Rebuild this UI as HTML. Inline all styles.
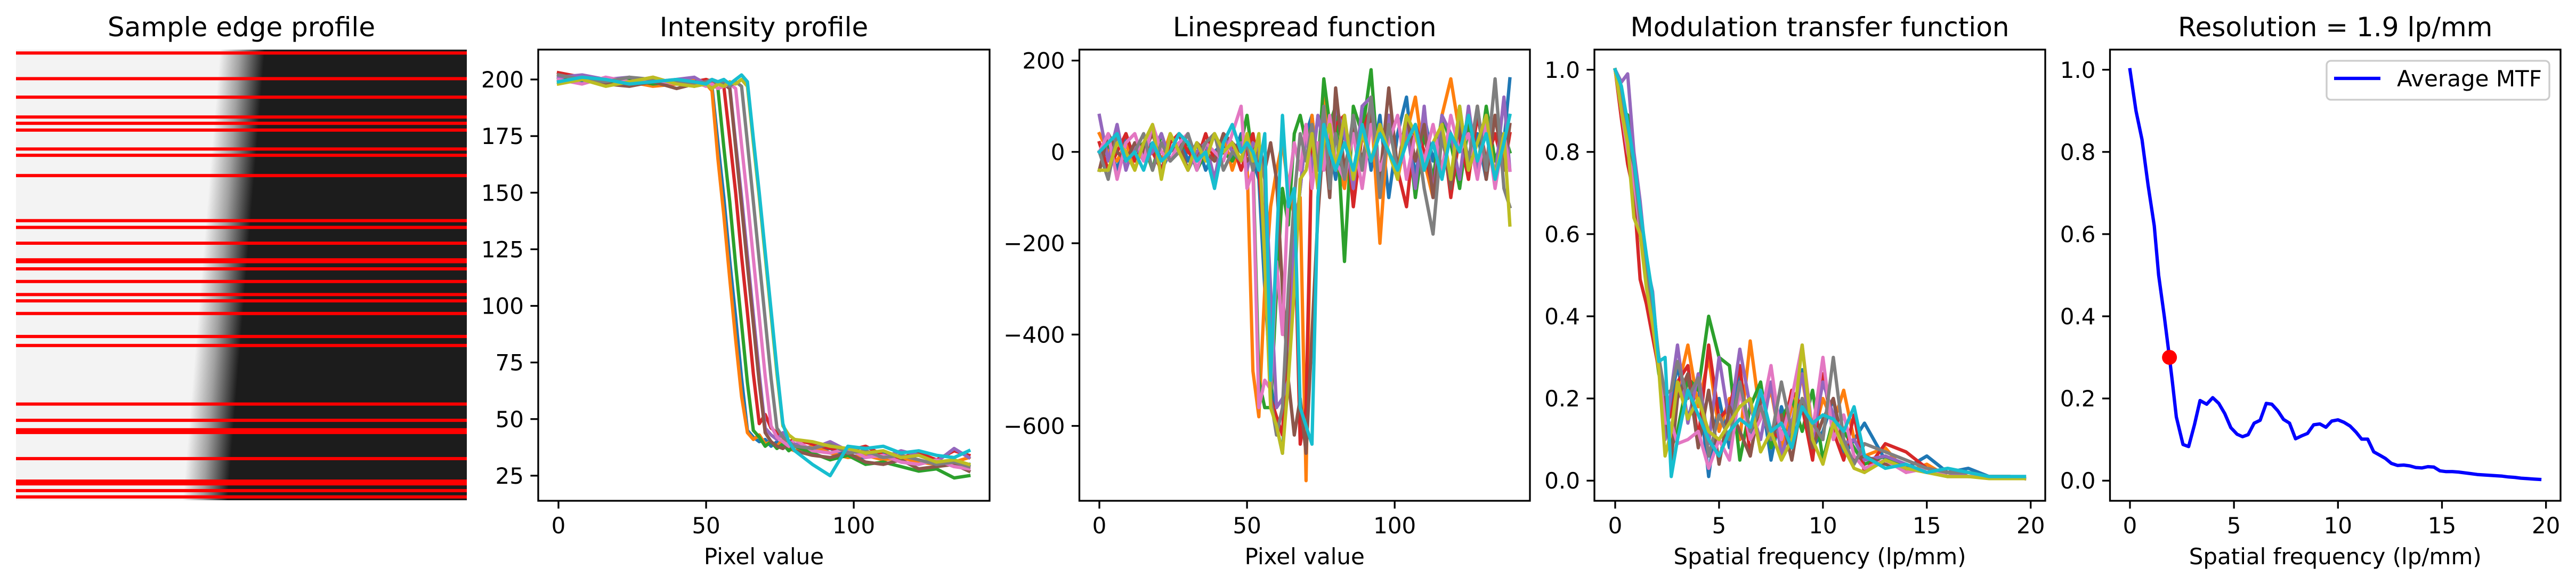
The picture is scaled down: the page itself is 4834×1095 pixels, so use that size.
<!DOCTYPE html>
<html><head><meta charset="utf-8"><style>
html,body{margin:0;padding:0;background:#fff;}
svg{display:block;font-family:"DejaVu Sans","Liberation Sans",sans-serif;}
</style></head><body>
<svg id="fig" width="4834" height="1095" viewBox="0 0 4834 1095" xmlns="http://www.w3.org/2000/svg">
<defs>
<linearGradient id="edgeGrad" gradientUnits="userSpaceOnUse" x1="413" y1="0" x2="497" y2="0">
<stop offset="0" stop-color="#f3f3f3"/><stop offset="0.45" stop-color="#a0a0a0"/><stop offset="1" stop-color="#1c1c1c"/>
</linearGradient>
<clipPath id="imgClip"><rect x="30" y="93" width="846" height="845"/></clipPath>
</defs>
<g id="edge-image" clip-path="url(#imgClip)">
<rect x="30" y="93" width="846" height="845" fill="#1c1c1c"/>
<g transform="matrix(1,0,-0.0828,1,7.7,0)"><rect x="-200" y="93" width="1200" height="845" fill="url(#edgeGrad)"/></g>
</g>
<g id="root"></g>
</svg>
<script>
const NS='http://www.w3.org/2000/svg';
const root=document.getElementById('root');
const C=['#1f77b4','#ff7f0e','#2ca02c','#d62728','#9467bd','#8c564b','#e377c2','#7f7f7f','#bcbd22','#17becf'];

// ---- sample edge rows (0-100 across image height)
const edgeRows=[0.4,6.1,10.2,14.6,16.0,17.5,21.7,23.1,27.6,37.6,39.1,42.6,46.3,46.7,48.3,51.1,54.0,55.4,58.2,63.3,65.3,78.3,81.9,84.0,84.6,90.4,95.4,96.0,97.5,98.9];

// ---- intensity profile
const intX=[0,8,16,24,32,40,46,50,52,54,56,58,60,62,64,66,68,70,72,74,76,78,80,86,92,98,104,110,116,122,128,134,139];
const int0=[201,199,200,198,200,199,198,199,197,172,148,120,95,68,45,42,40,41,38,40,37,39,38,36,37,34,33,35,31,30,32,29,30];
const int1=[202,200,198,199,197,198,200,198,195,165,140,112,85,60,44,41,43,39,40,38,41,37,36,38,35,33,34,32,33,31,30,31,33];
const int2=[200,201,199,200,198,199,197,200,199,196,170,146,118,92,66,45,42,38,40,37,39,36,38,35,32,34,30,31,29,27,28,24,25];
const int3=[203,201,200,199,201,198,199,200,199,198,197,174,150,122,97,70,48,52,46,44,42,40,41,39,37,36,38,34,33,35,32,36,34];
const int4=[201,202,200,201,199,200,201,198,200,199,200,197,172,148,122,96,70,46,43,41,44,40,39,37,40,36,35,33,36,34,31,37,33];
const int5=[199,200,198,197,199,196,198,199,197,199,198,196,170,144,118,92,66,44,40,38,37,39,36,34,33,35,31,30,32,28,29,30,27];
const int6=[200,198,201,199,200,198,199,197,198,196,197,198,196,171,147,121,95,69,47,42,40,38,41,36,35,37,33,34,31,30,32,29,28];
const int7=[202,200,199,201,200,199,198,199,200,198,199,197,199,197,172,146,120,94,68,46,42,40,38,37,39,35,36,33,34,32,30,31,29];
const int8=[198,200,197,199,201,198,197,198,196,198,197,199,198,200,197,172,148,122,96,70,47,43,41,40,38,37,35,36,33,34,31,32,30];
const int9=[199,201,200,198,199,200,199,198,200,199,200,198,200,202,199,174,150,124,98,72,48,40,36,30,25,38,37,38,35,36,34,33,36];
const intTicksX=[0,50,100]; const intTicksY=[25,50,75,100,125,150,175,200];

// ---- linespread function
const lsfX=[0,3,6,9,12,15,18,21,24,27,30,33,36,39,42,45,48,50,52,54,56,58,60,62,64,66,68,70,72,74,76,78,80,83,86,89,92,95,98,101,104,107,110,113,116,119,122,125,128,131,134,137,139];
const lsf0=[0,20,-40,40,-20,0,20,-40,0,40,-20,20,-40,0,20,-20,40, 0,-20,-60,-300,-500,-600,-660,-420,-200,-80,40,80,-40,100,20,-60, 60,-80,100,-40,80,-100,40,120,-60,80,-20,60,-80,100,-40,40,-60,80,20,160];
const lsf1=[40,0,-20,20,-40,20,0,-20,40,0,-40,20,0,-20,40,-40,20, -20,-480,-580,-300,-120,-40,20,-80,-140,-100,-720,80,-40,140,40,-20, -80,60,-40,100,-200,80,-60,40,120,-20,-100,80,160,40,-60,100,-40,80,-20,40];
const lsf2=[-40,20,40,-20,0,20,-40,40,-20,0,20,-40,0,40,0,-20,20, 80,-20,-500,-560,-560,-300,-80,-160,40,80,20,60,-40,160,60,100, -240,100,40,180,-80,60,-40,80,-100,40,-60,80,20,-80,60,-40,100,-20,40,0];
const lsf3=[20,-40,0,40,-20,20,0,-40,20,40,0,-20,40,-20,0,20,-40, 0,40,-40,-200,-540,-580,-620,-380,-120,-640,-560,40,-40,80,-20,60, 80,-120,40,100,-60,80,-40,-120,60,0,-80,60,-100,40,-60,80,-20,40,-40,40];
const lsf4=[80,-20,60,-40,20,-20,0,40,-20,20,-40,0,20,-60,40,0,20, -40,20,0,-40,-300,-560,-540,-500,-200,-80,40,-40,80,20,-60,100, 40,-80,100,120,-60,80,-40,60,-80,100,-100,80,40,-60,100,-40,80,-60,120,-40];
const lsf5=[-40,40,0,-20,20,0,40,-20,0,20,-40,20,0,-20,40,20,0, -20,0,20,-40,20,-60,-300,-500,-620,-540,-660,-400,-140,40,-100,140, -40,60,-20,80,-60,140,-40,80,-20,60,-100,40,-80,60,-40,100,-60,80,-40,60];
const lsf6=[0,40,-60,20,40,-20,60,0,-20,20,40,-40,20,0,-20,40,100, -80,-40,-560,-500,-520,-240,-400,-80,20,-40,60,-80,20,-40,80,-20, -60,40,-80,60,-40,20,80,-60,40,-20,60,-40,80,0,40,-60,60,-80,40,-40];
const lsf7=[0,-60,40,-20,0,40,-40,20,-20,0,40,-20,20,40,-40,0,-20, 20,-40,0,-60,-540,-620,-560,-300,-100,40,-20,60,-40,100,-80,40, -60,80,-40,120,-100,60,-40,20,60,-80,-180,40,-60,80,-20,100,-40,160,-80,-120];
const lsf8=[-40,-40,20,0,-40,20,60,-60,40,0,-40,20,-20,40,0,20,-20, 40,-20,40,-240,-560,-600,-660,-500,-300,-60,-40,40,-80,20,60,-40, 80,-60,40,-20,60,0,-60,80,40,-40,20,60,-60,100,-40,20,80,-60,40,-160];
const lsf9=[0,20,40,-20,0,-40,20,-20,0,40,20,-20,0,-80,20,60,0, 20,0,-40,40,-500,-200,80,-120,-80,-560,-600,-640,-100,60,0,-40, 20,-40,60,-20,40,0,-40,20,60,-40,20,-60,40,0,80,-20,40,-60,20,80];
const lsfTicksX=[0,50,100]; const lsfTicksY=[-600,-400,-200,0,200];

// ---- MTF (per-row)
const mtfX=[0,0.3,0.6,0.9,1.2,1.5,1.8,2.1,2.4,2.7,3.0,3.5,4.0,4.5,5.0,5.5,6.0,6.5,7.0,7.5,8.0,8.5,9.0,9.5,10.0,10.5,11.0,11.5,12.0,13,14,15,16,17,18,19,19.7];
const mtf0=[1,0.92,0.82,0.75,0.62,0.5,0.4,0.28,0.12,0.2,0.28,0.15,0.24,0.01,0.2,0.08,0.27,0.1,0.22,0.05,0.18,0.1,0.27,0.08,0.12,0.2,0.06,0.1,0.14,0.05,0.03,0.06,0.02,0.03,0.01,0.01,0.01];
const mtf1=[1,0.95,0.85,0.78,0.65,0.52,0.44,0.3,0.16,0.1,0.22,0.33,0.18,0.3,0.12,0.2,0.1,0.34,0.15,0.22,0.08,0.18,0.25,0.1,0.2,0.14,0.22,0.1,0.06,0.08,0.02,0.04,0.01,0.02,0.01,0.01,0.005];
const mtf2=[1,0.9,0.89,0.74,0.6,0.48,0.38,0.26,0.2,0.08,0.12,0.25,0.22,0.4,0.3,0.28,0.05,0.18,0.24,0.08,0.15,0.2,0.12,0.22,0.05,0.15,0.12,0.08,0.04,0.06,0.03,0.02,0.02,0.01,0.01,0.01,0.005];
const mtf3=[1,0.88,0.77,0.7,0.49,0.43,0.35,0.27,0.14,0.16,0.24,0.28,0.1,0.33,0.15,0.18,0.28,0.06,0.2,0.12,0.1,0.22,0.18,0.05,0.26,0.12,0.05,0.16,0.02,0.09,0.07,0.03,0.02,0.02,0.01,0.01,0.005];
const mtf4=[1,0.97,0.99,0.8,0.68,0.53,0.46,0.28,0.1,0.22,0.33,0.14,0.26,0.09,0.3,0.14,0.32,0.18,0.1,0.24,0.06,0.14,0.26,0.1,0.24,0.16,0.09,0.1,0.05,0.06,0.04,0.02,0.02,0.01,0.01,0.005,0.005];
const mtf5=[1,0.93,0.8,0.72,0.6,0.5,0.4,0.3,0.18,0.05,0.2,0.26,0.08,0.22,0.04,0.18,0.12,0.06,0.2,0.1,0.16,0.05,0.2,0.08,0.15,0.2,0.08,0.05,0.06,0.04,0.03,0.02,0.01,0.01,0.01,0.005,0.005];
const mtf6=[1,0.9,0.8,0.73,0.61,0.49,0.4,0.28,0.14,0.14,0.09,0.1,0.12,0.03,0.1,0.05,0.22,0.1,0.15,0.28,0.1,0.2,0.33,0.12,0.3,0.1,0.16,0.06,0.03,0.05,0.02,0.03,0.01,0.01,0.01,0.005,0.005];
const mtf7=[1,0.95,0.86,0.77,0.63,0.5,0.41,0.3,0.21,0.22,0.29,0.2,0.25,0.06,0.16,0.1,0.24,0.12,0.18,0.1,0.24,0.12,0.2,0.14,0.1,0.3,0.1,0.04,0.09,0.07,0.05,0.03,0.02,0.02,0.01,0.01,0.005];
const mtf8=[1,0.9,0.82,0.64,0.6,0.47,0.38,0.27,0.06,0.12,0.24,0.15,0.2,0.12,0.1,0.14,0.18,0.2,0.07,0.12,0.05,0.1,0.33,0.1,0.04,0.14,0.08,0.03,0.02,0.05,0.03,0.02,0.01,0.01,0.005,0.005,0.005];
const mtf9=[1,0.96,0.87,0.78,0.66,0.55,0.45,0.29,0.3,0.01,0.1,0.22,0.16,0.1,0.06,0.12,0.15,0.13,0.22,0.12,0.14,0.08,0.18,0.14,0.16,0.15,0.12,0.18,0.06,0.03,0.04,0.02,0.03,0.02,0.01,0.01,0.01];
const mtfTicksX=[0,5,10,15,20]; const mtfTicksY=[0,0.2,0.4,0.6,0.8,1.0];

// ---- average MTF
const avgX=[0,0.29,0.58,0.87,1.17,1.38,1.65,1.9,2.04,2.23,2.55,2.82,3.1,3.37,3.69,3.98,4.27,4.56,4.85,5.15,5.41,5.68,5.97,6.26,6.55,6.82,7.11,7.38,7.67,7.96,8.25,8.54,8.83,9.13,9.42,9.7,10.0,10.29,10.58,10.87,11.14,11.43,11.72,12.01,12.28,12.57,12.86,13.16,13.45,13.74,14.03,14.32,14.61,14.9,15.2,15.5,15.8,16.1,16.4,16.7,17.0,17.3,17.6,17.9,18.2,18.5,18.8,19.1,19.4,19.7];
const avgY=[1.0,0.90,0.83,0.72,0.62,0.50,0.40,0.30,0.24,0.155,0.088,0.083,0.136,0.195,0.186,0.202,0.188,0.163,0.129,0.113,0.107,0.112,0.140,0.147,0.188,0.186,0.170,0.149,0.140,0.102,0.109,0.115,0.136,0.138,0.130,0.145,0.148,0.142,0.133,0.118,0.101,0.101,0.070,0.062,0.054,0.042,0.037,0.038,0.036,0.032,0.031,0.034,0.033,0.024,0.022,0.022,0.021,0.019,0.017,0.015,0.014,0.013,0.012,0.011,0.009,0.008,0.006,0.005,0.004,0.003];
const resX=[1.9]; const resY=[0.3];

function el(tag,attrs,parent){const e=document.createElementNS(NS,tag);for(const k in attrs)e.setAttribute(k,attrs[k]);(parent||root).appendChild(e);return e;}
function scale(d0,d1,r0,r1){return v=>r0+(v-d0)/(d1-d0)*(r1-r0);}

function axes(o){
  const g=el('g',{});
  
  
  const sx=scale(o.xlim[0],o.xlim[1],o.x0,o.x1), sy=scale(o.ylim[0],o.ylim[1],o.y1,o.y0);
  const cid='clip-'+o.name;
  const cp=el('clipPath',{id:cid},g); el('rect',{x:o.x0,y:o.y0,width:o.x1-o.x0,height:o.y1-o.y0},cp);
  const plot=el('g',{'clip-path':'url(#'+cid+')'},g);
  const t=el('text',{x:(o.x0+o.x1)/2,y:68,'font-size':50,'text-anchor':'middle',fill:'#000'},g);
  t.textContent=o.title;
  
  
  o.xticks.forEach(v=>{
    const x=sx(v);
    el('line',{x1:x,y1:o.y1,x2:x,y2:o.y1+14.6,stroke:'#000','stroke-width':3.3},g);
    const tl=el('text',{x:x,y:1000,'font-size':42,'text-anchor':'middle'},g);
    tl.textContent=String(v);
    
    
  });
  o.yticks.forEach(v=>{
    const y=sy(v);
    el('line',{x1:o.x0-14.6,y1:y,x2:o.x0,y2:y,stroke:'#000','stroke-width':3.3},g);
    const tl=el('text',{x:o.x0-27,y:y+15,'font-size':42,'text-anchor':'end'},g);
    tl.textContent=o.fmt?o.fmt(v):String(v).replace('-','\u2212');
    
    
  });
  const xl=el('text',{x:(o.x0+o.x1)/2,y:1058,'font-size':42,'text-anchor':'middle'},g);
  xl.textContent=o.xlabel;
  
  
  o.series.forEach((s,i)=>{
    const pts=s.x.map((xv,j)=>sx(xv).toFixed(1)+','+sy(s.y[j]).toFixed(1)).join(' ');
    const p=el('polyline',{points:pts,fill:'none',stroke:s.c,'stroke-width':6.25,'stroke-linejoin':'round','stroke-linecap':'square'},plot);
    
    
  });
  const fr=el('rect',{x:o.x0,y:o.y0,width:o.x1-o.x0,height:o.y1-o.y0,fill:'none',stroke:'#000','stroke-width':3.3},g);
  
  
  return {g,sx,sy,plot};
}

// panel 1: rows
const t1=el('text',{x:453,y:68,'font-size':50,'text-anchor':'middle'});
t1.textContent='Sample edge profile';


const rowY=scale(0,100,93,938);
edgeRows.forEach(r=>{
  const ln=el('rect',{x:30,y:(rowY(r)).toFixed(1),width:846,height:6,fill:'#ff0000'});
  
  
});

const intS=[int0,int1,int2,int3,int4,int5,int6,int7,int8,int9].map((y,i)=>({x:intX,y:y,c:C[i],n:'intensity-row-'+i}));
axes({name:'intensity-profile',title:'Intensity profile',xlabel:'Pixel value',x0:1010,x1:1857,y0:93,y1:939,xlim:[-6.86,146],ylim:[13.9,213.2],xticks:intTicksX,yticks:intTicksY,series:intS});

const lsfS=[lsf0,lsf1,lsf2,lsf3,lsf4,lsf5,lsf6,lsf7,lsf8,lsf9].map((y,i)=>({x:lsfX,y:y,c:C[i],n:'lsf-row-'+i}));
axes({name:'linespread-function',title:'Linespread function',xlabel:'Pixel value',x0:2025.5,x1:2871,y0:93,y1:939,xlim:[-6.77,145.8],ylim:[-764,224],xticks:lsfTicksX,yticks:lsfTicksY,series:lsfS});

const f1=v=>v.toFixed(1);
const mtfS=[mtf0,mtf1,mtf2,mtf3,mtf4,mtf5,mtf6,mtf7,mtf8,mtf9].map((y,i)=>({x:mtfX,y:y,c:C[i],n:'mtf-row-'+i}));
axes({name:'modulation-transfer-function',title:'Modulation transfer function',xlabel:'Spatial frequency (lp/mm)',x0:2992,x1:3838,y0:93,y1:939,xlim:[-1.0,20.7],ylim:[-0.049,1.049],xticks:mtfTicksX,yticks:mtfTicksY,fmt:f1,series:mtfS});

const res=axes({name:'resolution-plot',title:'Resolution = 1.9 lp/mm',xlabel:'Spatial frequency (lp/mm)',x0:3959.5,x1:4805,y0:93,y1:939,xlim:[-0.96,20.7],ylim:[-0.049,1.049],xticks:mtfTicksX,yticks:mtfTicksY,fmt:f1,series:[{x:avgX,y:avgY,c:'#0000ff',n:'average-mtf-line'}]});
resX.forEach((xv,i)=>{
  const d=el('circle',{cx:res.sx(xv),cy:res.sy(resY[i]),r:14,fill:'#ff0000'},res.plot);
  
  
});
// legend
const lg=el('g',{});


el('rect',{x:4366,y:114,width:418,height:73,rx:8,fill:'#fff','fill-opacity':0.8,stroke:'#cccccc','stroke-width':3.3},lg);
const ll=el('line',{x1:4380,y1:147,x2:4467,y2:147,stroke:'#0000ff','stroke-width':6.25},lg);


const lt=el('text',{x:4498,y:162,'font-size':42},lg);
lt.textContent='Average MTF';


</script>
</body></html>
